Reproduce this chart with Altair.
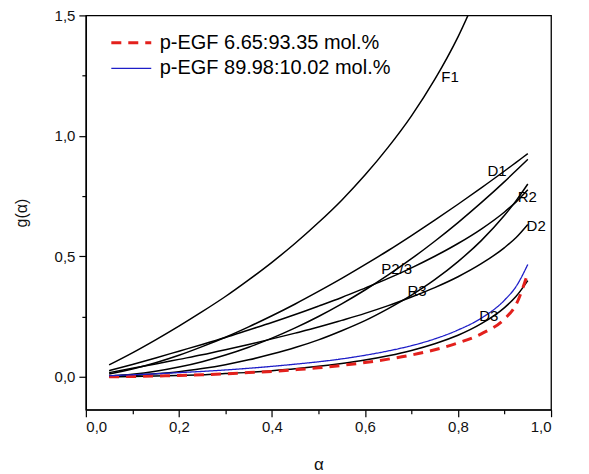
import altair as alt
import pandas as pd

# ---- data ----
alpha = [0.05, 0.10, 0.15, 0.20, 0.25, 0.30, 0.35, 0.40, 0.45, 0.50,
         0.55, 0.60, 0.65, 0.70, 0.75, 0.80, 0.85, 0.90, 0.925, 0.95]

F1 = [0.049, 0.099, 0.153, 0.210, 0.270, 0.333, 0.402, 0.475, 0.554, 0.640,
      0.733, 0.837, 0.953, 1.083, 1.234, 1.411, 1.626]
D1 = [0.0025, 0.010, 0.0225, 0.040, 0.0625, 0.090, 0.1225, 0.160, 0.2025, 0.250,
      0.3025, 0.360, 0.4225, 0.490, 0.5625, 0.640, 0.7225, 0.810, 0.856, 0.9025]
P23 = [0.011, 0.032, 0.058, 0.089, 0.125, 0.164, 0.207, 0.253, 0.302, 0.354,
       0.408, 0.465, 0.524, 0.586, 0.650, 0.716, 0.784, 0.854, 0.890, 0.926]
R2 = [0.025, 0.051, 0.078, 0.106, 0.134, 0.163, 0.194, 0.225, 0.258, 0.293,
      0.329, 0.368, 0.408, 0.452, 0.500, 0.553, 0.613, 0.684, 0.726, 0.776]
R3 = [0.017, 0.035, 0.053, 0.072, 0.091, 0.112, 0.134, 0.157, 0.181, 0.206,
      0.234, 0.263, 0.295, 0.331, 0.370, 0.415, 0.469, 0.536, 0.578, 0.632]
D2 = [0.001, 0.005, 0.012, 0.021, 0.034, 0.050, 0.070, 0.094, 0.121, 0.153,
      0.191, 0.233, 0.283, 0.339, 0.403, 0.478, 0.565, 0.670, 0.731, 0.800]
D3 = [0.000, 0.001, 0.003, 0.005, 0.008, 0.013, 0.018, 0.025, 0.033, 0.043,
      0.055, 0.069, 0.087, 0.109, 0.137, 0.172, 0.220, 0.287, 0.334, 0.399]

exp_red = [0.000, 0.001, 0.003, 0.005, 0.008, 0.012, 0.017, 0.022, 0.029, 0.037,
           0.047, 0.059, 0.073, 0.090, 0.112, 0.140, 0.178, 0.240, 0.300, 0.430]
exp_blue = [0.004, 0.008, 0.012, 0.017, 0.022, 0.028, 0.035, 0.043, 0.052, 0.062,
            0.074, 0.089, 0.107, 0.129, 0.157, 0.194, 0.243, 0.318, 0.375, 0.466]

series_names = ["p-EGF 6.65:93.35 mol.%", "p-EGF 89.98:10.02 mol.%"]

label_text = ["F1", "D1", "R2", "D2", "P2/3", "R3", "D3"]
label_x = [0.783, 0.884, 0.949, 0.968, 0.668, 0.712, 0.866]
label_y = [1.244, 0.855, 0.745, 0.625, 0.449, 0.356, 0.252]

x_major = [0.0, 0.2, 0.4, 0.6, 0.8, 1.0]
x_minor = [0.1, 0.3, 0.5, 0.7, 0.9]
y_major = [0.0, 0.5, 1.0, 1.5]
y_minor = [0.25, 0.75, 1.25]

# ---- tables ----
theo_rows = []
for name, vals in [("F1", F1), ("D1", D1), ("P2/3", P23), ("R2", R2),
                   ("R3", R3), ("D2", D2), ("D3", D3)]:
    for a, g in zip(alpha, vals):
        theo_rows.append({"alpha": a, "g": g, "model": name})
theo = pd.DataFrame(theo_rows)

exp_rows = []
for name, vals in zip(series_names, [exp_red, exp_blue]):
    for a, g in zip(alpha, vals):
        exp_rows.append({"alpha": a, "g": g, "series": name})
exp = pd.DataFrame(exp_rows)

labels = pd.DataFrame({"x": label_x, "y": label_y, "t": label_text})

FONT = "Liberation Sans"
lab_expr = "replace(format(datum.value, '.1f'), '.', ',')"

xscale = alt.Scale(domain=[0, 1], nice=False)
yscale = alt.Scale(domain=[-0.137, 1.5], nice=False)

x_axis = alt.Axis(values=x_major, labelExpr=lab_expr, tickSize=7, labelFontSize=15,
                  title="α", titleFontSize=17, titleFontWeight="normal",
                  titlePadding=22, grid=False, orient="bottom", labelPadding=3)
y_axis = alt.Axis(values=y_major, labelExpr=lab_expr, tickSize=7, labelFontSize=15,
                  title="g(α)", titleFontSize=16, titleFontWeight="normal",
                  titlePadding=25, grid=False, orient="left", labelPadding=4)

theo_layer = alt.Chart(theo).mark_line(
    clip=True, interpolate="monotone", color="black", strokeWidth=1.5
).encode(
    x=alt.X("alpha:Q", scale=xscale, axis=x_axis),
    y=alt.Y("g:Q", scale=yscale, axis=y_axis),
    detail="model:N",
)

leg = alt.Legend(title=None, orient="none", legendX=34, legendY=16,
                 labelFontSize=20, labelFont=FONT, symbolType="M-2,0H2",
                 symbolSize=400, labelOffset=17, rowPadding=4, padding=0,
                 labelColor="black", labelLimit=0)

exp_layer = alt.Chart(exp).mark_line(clip=True, interpolate="monotone").encode(
    x=alt.X("alpha:Q", scale=xscale, axis=None),
    y=alt.Y("g:Q", scale=yscale, axis=None),
    color=alt.Color("series:N", scale=alt.Scale(domain=series_names,
                                               range=["#e3201c", "#1e1ec8"]),
                    legend=leg),
    strokeDash=alt.StrokeDash("series:N", scale=alt.Scale(domain=series_names,
                                                         range=[[10, 7], [1, 0]]),
                              legend=leg),
    strokeWidth=alt.StrokeWidth("series:N", scale=alt.Scale(domain=series_names,
                                                           range=[3, 1.3]),
                                legend=leg),
    order=alt.Order("alpha:Q"),
)

text_layer = alt.Chart(labels).mark_text(
    font=FONT, fontSize=15, color="black", align="center", baseline="middle"
).encode(
    x=alt.X("x:Q", scale=xscale, axis=None),
    y=alt.Y("y:Q", scale=yscale, axis=None),
    text="t:N",
)

minor_layer = alt.Chart(labels).mark_point(opacity=0).encode(
    x=alt.X("x:Q", scale=xscale,
            axis=alt.Axis(values=x_minor, labels=False, domain=False, tickSize=4,
                          title=None, grid=False, orient="bottom")),
    y=alt.Y("y:Q", scale=yscale,
            axis=alt.Axis(values=y_minor, labels=False, domain=False, tickSize=4,
                          title=None, grid=False, orient="left")),
)

chart = alt.layer(theo_layer, exp_layer, text_layer, minor_layer).resolve_axis(
    x="independent", y="independent"
).properties(
    width=466, height=395,
    autosize=alt.AutoSizeParams(type="none"),
    padding={"left": 78, "top": 7, "right": 30, "bottom": 70},
).configure_view(
    stroke="black", strokeWidth=1.3
).configure_axis(
    domainColor="black", tickColor="black", labelColor="#111111",
    titleColor="#111111", labelFont=FONT, titleFont=FONT,
    domainWidth=1.3, tickWidth=1.2
)

chart.save("out.html", embed_options={"renderer": "svg", "actions": False})
